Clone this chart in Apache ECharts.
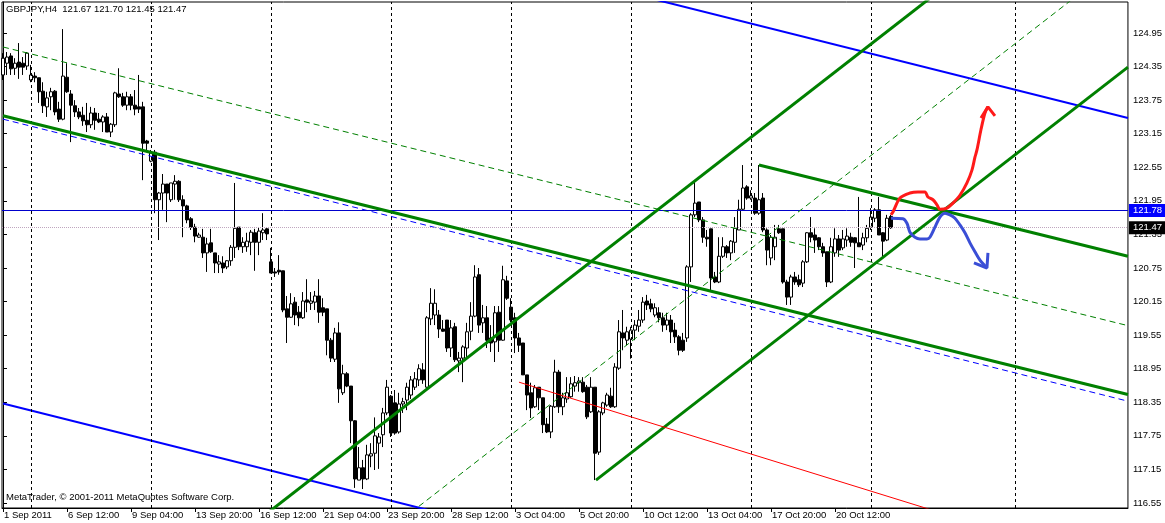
<!DOCTYPE html>
<html><head><meta charset="utf-8">
<script src="https://cdn.jsdelivr.net/npm/echarts@6/dist/echarts.min.js"></script>
<style>html,body{margin:0;padding:0;background:#fff}#c{width:1165px;height:523px}</style>
</head><body><div id="c"></div>
<script>
const FONT = 'Liberation Sans';
const FS = 9.5;

// ---- H4 candles, bar index 0 = 1 Sep 2011 20:00 ----
const opens = [124.20,124.41,124.54,124.32,124.43,124.41,124.36,124.11,124.18,124.15,
123.91,123.63,123.81,123.91,123.59,123.41,124.16,123.86,123.65,123.54,
123.48,123.39,123.31,123.52,123.41,123.36,123.45,123.18,123.31,123.86,
123.81,123.66,123.81,123.66,123.63,123.63,123.02,122.66,122.82,121.97,
122.09,122.25,121.97,122.25,122.30,121.97,121.86,121.63,121.48,121.30,
121.30,121.02,121.20,121.02,120.82,120.84,120.77,120.88,121.12,121.48,
121.13,121.13,121.21,121.38,121.21,121.38,121.45,120.86,120.68,120.71,
120.70,120.02,119.87,120.14,119.96,119.86,120.18,120.12,120.14,120.25,
120.04,120.02,119.46,119.12,119.59,118.52,118.86,118.64,118.02,116.96,
117.18,116.98,117.39,117.44,117.62,117.77,118.16,118.46,118.34,117.82,
118.32,118.39,118.48,118.62,118.75,118.93,118.62,119.84,119.91,119.91,
119.66,119.82,119.32,119.70,119.09,119.14,119.32,119.62,119.89,120.63,
119.77,119.86,119.50,119.43,119.96,119.46,120.52,120.05,119.86,119.50,
119.41,118.84,118.52,118.27,118.62,118.43,117.96,117.82,118.27,118.89,
118.27,118.41,118.45,118.64,118.70,118.71,118.62,118.18,118.62,117.46,
118.16,118.30,118.46,118.27,118.96,119.59,119.46,119.48,119.64,119.71,
119.82,120.16,120.11,119.91,119.95,119.86,119.73,119.82,119.64,119.52,
119.46,119.50,120.77,121.70,121.93,121.61,121.30,121.45,120.59,120.50,
120.96,121.13,121.02,121.21,121.43,121.80,122.20,122.00,122.00,121.73,
122.00,121.43,120.93,121.13,121.45,121.45,120.50,120.23,120.59,120.54,
120.48,120.86,121.38,121.34,121.29,121.13,121.04,120.50,121.02,121.27,
121.11,121.25,121.30,121.29,121.20,121.16,121.29,121.48,121.64,121.79,
121.38,121.25,121.67];
const highs = [124.59,124.61,124.59,124.50,124.77,124.52,124.61,124.38,124.25,124.15,
124.07,123.90,123.97,123.93,123.72,125.02,124.41,123.93,123.75,123.61,
123.63,123.70,123.63,123.61,123.52,123.48,123.52,123.34,123.90,124.32,
123.88,123.90,123.86,123.93,124.20,123.72,123.04,122.86,122.86,122.11,
122.43,122.25,122.27,122.41,122.32,122.05,121.88,121.66,121.54,121.38,
121.45,121.29,121.45,121.02,120.98,120.96,120.89,121.16,122.27,121.48,
121.30,121.38,121.43,121.45,121.48,121.73,121.48,121.11,120.75,120.98,
120.70,120.25,120.30,120.23,120.07,120.32,120.55,120.32,120.34,120.55,
120.21,120.02,119.50,119.68,119.78,119.02,118.89,118.64,118.03,117.55,
117.32,117.59,117.62,118.08,117.80,118.25,118.75,118.48,118.57,118.52,
118.43,118.70,118.82,118.89,119.03,119.05,119.89,120.39,120.37,120.00,
119.82,119.82,119.82,119.77,119.25,119.37,119.77,120.14,120.80,120.75,
120.09,120.07,119.73,120.07,120.07,120.79,120.61,120.21,119.95,119.59,
119.41,118.84,118.70,118.66,118.62,118.43,118.07,118.30,119.11,118.93,
118.52,118.80,118.80,118.82,118.80,118.80,118.66,118.80,118.62,118.21,
118.36,118.52,118.61,119.05,119.82,120.00,119.70,119.70,119.82,120.00,
120.23,120.27,120.20,120.12,120.05,119.95,119.95,119.91,119.77,119.55,
119.59,120.80,121.73,122.29,121.93,121.66,121.43,121.45,120.68,121.30,
121.30,121.16,121.25,121.66,121.97,122.59,122.23,122.14,122.09,122.59,
122.09,121.46,121.34,121.52,121.52,121.45,120.54,120.63,120.68,120.63,
120.89,121.39,121.66,121.46,121.30,121.20,121.04,121.29,121.46,121.34,
121.43,121.46,121.38,121.30,122.02,121.38,121.52,121.82,121.82,122.02,
121.39,121.70,121.70];
const lows = [124.11,124.20,124.20,124.20,124.13,124.20,124.29,124.07,124.07,123.70,
123.52,123.45,123.57,123.48,123.36,123.39,123.88,123.00,123.45,123.41,
123.29,123.18,123.25,123.22,123.34,123.18,123.18,123.09,123.27,123.79,
123.63,123.57,123.57,123.48,123.52,122.32,122.82,122.64,121.73,121.25,
121.79,121.57,121.93,121.97,121.93,121.30,121.55,121.43,121.21,121.29,
120.93,120.68,121.02,120.66,120.66,120.66,120.73,120.79,120.93,121.07,
121.02,121.04,120.98,120.70,120.98,121.25,121.25,120.66,120.59,120.63,
119.96,119.41,119.86,119.73,119.71,119.84,119.96,120.00,120.00,119.77,
119.89,119.19,119.07,119.07,118.34,118.48,118.62,117.62,116.82,116.96,
116.80,116.96,117.19,117.14,117.16,117.55,118.12,117.73,117.77,117.79,
118.16,118.21,118.41,118.57,118.64,118.68,118.61,119.73,119.73,119.50,
119.61,119.25,119.16,119.07,118.89,118.71,119.16,119.46,119.87,119.59,
119.59,119.32,119.25,119.07,119.25,119.45,120.18,119.78,119.23,119.25,
118.84,118.21,118.07,118.25,118.21,117.80,117.80,117.71,118.25,118.16,
118.12,118.34,118.43,118.54,118.54,118.52,118.05,118.16,116.96,117.41,
118.12,118.27,118.25,118.25,118.93,119.28,119.37,119.13,119.46,119.61,
119.77,120.00,119.96,119.87,119.78,119.61,119.64,119.41,119.41,119.19,
119.25,119.43,120.50,121.66,121.57,121.20,121.13,120.32,120.48,120.48,
120.93,120.93,120.89,121.02,121.43,121.79,121.97,121.97,121.70,121.70,
121.39,120.80,120.80,120.89,121.36,120.47,120.09,120.09,120.45,120.41,
120.41,120.84,121.21,121.02,121.07,120.95,120.41,120.48,120.95,120.95,
121.07,121.13,121.13,120.75,121.13,121.07,121.21,121.43,121.57,121.36,
120.95,121.23,121.45];
const closes = [124.50,124.52,124.31,124.41,124.34,124.34,124.59,124.20,124.15,123.90,
123.65,123.79,123.90,123.54,123.41,124.18,123.90,123.66,123.54,123.45,
123.38,123.31,123.52,123.39,123.36,123.45,123.18,123.32,123.88,123.81,
123.66,123.81,123.66,123.59,123.59,122.98,122.98,122.82,121.97,122.09,
122.25,122.09,122.27,122.30,121.97,121.86,121.61,121.48,121.32,121.34,
121.02,121.18,121.04,120.84,120.86,120.75,120.88,121.12,121.46,121.13,
121.21,121.23,121.39,121.21,121.41,121.43,121.36,120.66,120.66,120.68,
120.00,119.87,120.11,119.91,119.86,120.16,120.14,120.16,120.25,119.96,
119.96,119.46,119.14,119.59,118.59,118.86,118.64,118.02,116.98,117.18,
116.98,117.41,117.43,117.75,117.73,118.16,118.62,117.80,117.80,118.32,
118.36,118.62,118.75,118.77,118.95,118.75,119.86,120.12,120.12,119.66,
119.62,119.32,119.68,119.11,119.14,119.34,119.61,119.89,120.59,119.73,
119.86,119.46,119.41,119.95,119.46,120.54,120.21,119.82,119.50,119.37,
118.84,118.48,118.25,118.61,118.43,117.95,117.82,118.28,118.89,118.27,
118.43,118.52,118.68,118.70,118.73,118.54,118.09,118.62,117.44,118.18,
118.34,118.48,118.27,118.98,119.61,119.50,119.61,119.64,119.73,119.82,
120.14,120.09,120.02,120.04,119.86,119.73,119.82,119.61,119.52,119.28,
119.28,120.77,121.70,121.91,121.61,121.30,121.27,120.57,120.50,120.96,
121.13,121.02,121.23,121.46,121.80,122.18,122.00,122.04,121.73,121.97,
121.43,121.07,121.30,121.30,121.38,120.50,120.23,120.59,120.50,120.45,
120.86,121.38,121.30,121.25,121.13,121.02,120.50,121.13,121.27,121.07,
121.27,121.32,121.21,121.20,121.13,121.29,121.46,121.66,121.79,121.34,
121.23,121.64,121.47];

// ---- axes ----
const xTickBars = [0,16,32,48,64,80,96,112,128,144,160,176,192,208];
const xTickLabels = ['1 Sep 2011','6 Sep 12:00','9 Sep 04:00','13 Sep 20:00','16 Sep 12:00','21 Sep 04:00',
  '23 Sep 20:00','28 Sep 12:00','3 Oct 04:00','5 Oct 20:00','10 Oct 12:00','13 Oct 04:00','17 Oct 20:00','20 Oct 12:00'];
const yTickValues = [116.55,117.15,117.75,118.35,118.95,119.55,120.15,120.75,121.35,121.95,122.55,123.15,123.75,124.35,124.95];
const weekSeparators = [7,37,67,97,127,157,187,217,253];
const lastLevel = 121.78;
const bidLevel = 121.47;
const titleText = 'GBPJPY,H4  121.67 121.70 121.45 121.47';
const copyrightText = 'MetaTrader, \u00a9 2001-2011 MetaQuotes Software Corp.';

// ---- drawn objects, [bar index, price] ----
const chanDownMain  = [[0,123.47],[281.25,118.49]];
const chanDownUpper = [[189,122.59],[281.25,120.96]];
const chanDownMid   = [[0,124.70],[281.25,119.72]];
const chanUpA   = [[60,116.03],[240,126.03]];
const chanUpB   = [[148.25,116.96],[281.25,124.34]];
const chanUpMid = [[100,116.27],[270,125.70]];
const regMid   = [[0,123.41],[281.25,118.37]];
const regUpper = [[0,128.47],[281.25,123.43]];
const regLower = [[0,118.33],[281.25,113.29]];
const redRay = [[129,118.71],[232,116.43]];
const redPath = [[222,121.70],[222.5,121.75],[224.25,122.00],[226.75,122.09],[228.75,122.11],[230.5,122.11],
  [231.25,122.02],[232.5,121.97],[233.5,121.88],[234.25,121.80],[236,121.82],[237.5,121.91],[239.25,122.05],
  [241,122.27],[242.25,122.50],[243,122.73],[243.5,122.86],[244.5,123.22],[245.5,123.52],[246.25,123.63]];
const redHead = [[244.5,123.43],[246.25,123.63],[248,123.47]];
const bluePath = [[222,121.64],[225,121.63],[226,121.55],[226.75,121.39],[228,121.30],[229.25,121.27],[231,121.27],
  [231.75,121.30],[233,121.48],[234.25,121.66],[235.5,121.73],[236.75,121.70],[238,121.64],[239.25,121.52],
  [240.5,121.38],[241.75,121.20],[243,121.04],[244.25,120.89],[245.5,120.79],[246,120.75]];
const blueHead = [[242.75,120.84],[246,120.75],[246.25,121.02]];

const Y_MIN = 116.461, Y_MAX = 125.504;

const candles = opens.map((o,k)=>[k, o, closes[k], lows[k], highs[k]]);

function line(pts, color, width, type, z, smooth){
  return {type:'line', data: pts, symbol:'none', smooth: smooth||false, silent:true, clip:true,
    lineStyle:{color:color, width:width, type:type||'solid'}, z: z||5, animation:false};
}

const chart = echarts.init(document.getElementById('c'), null, {renderer:'canvas'});
chart.setOption({
  animation:false,
  backgroundColor:'#fff',
  grid:{left:2, right:37, top:2, bottom:15, show:true, borderColor:'#000', borderWidth:1, backgroundColor:'#fff'},
  xAxis:{type:'value', min:-0.25, max:281.25,
    axisLine:{show:true, lineStyle:{color:'#000', width:1}},
    axisTick:{show:true, length:4, lineStyle:{color:'#000'}, customValues:xTickBars},
    axisLabel:{show:true, customValues:xTickBars, color:'#000', fontFamily:FONT, fontSize:FS, align:'left', margin:2,
      padding:[0,0,0,1],
      formatter:(v)=>{const k=xTickBars.indexOf(Math.round(v)); return k>=0?xTickLabels[k]:'';}},
    splitLine:{show:false}},
  yAxis:{type:'value', position:'right', min:Y_MIN, max:Y_MAX, scale:true,
    axisLine:{show:true, lineStyle:{color:'#000', width:1}},
    axisTick:{show:true, length:4, lineStyle:{color:'#000'}, customValues:yTickValues},
    axisLabel:{show:true, customValues:yTickValues, color:'#000', fontFamily:FONT, fontSize:FS, margin:5,
      formatter:(v)=>v.toFixed(2)},
    splitLine:{show:false}},
  graphic:[
    {type:'text', left:6, top:4, z:100, style:{text:titleText, fill:'#000', font:FS+'px '+FONT}},
    {type:'text', left:6, top:492, z:100, style:{text:copyrightText, fill:'#000', font:FS+'px '+FONT}}
  ],
  series:[
    {type:'line', data:[], silent:true, z:1,
      markLine:{silent:true, symbol:'none', animation:false, label:{show:false},
        lineStyle:{color:'#000', width:1, type:[3,3]},
        data: weekSeparators.map(v=>({xAxis:v}))}},
    {type:'line', data:[], silent:true, z:2,
      markLine:{silent:true, symbol:'none', animation:false,
        data:[
          {yAxis:lastLevel, lineStyle:{color:'#0000cc', width:1, type:'solid'},
            label:{show:true, position:'end', distance:1, formatter:lastLevel.toFixed(2), color:'#fff',
              backgroundColor:'#0000ff', padding:[2,4,1,4], fontFamily:FONT, fontSize:FS}},
          {yAxis:bidLevel, lineStyle:{color:'#bfa6bf', width:1, type:[1,1]},
            label:{show:true, position:'end', distance:1, formatter:bidLevel.toFixed(2), color:'#fff',
              backgroundColor:'#000', padding:[2,4,1,4], fontFamily:FONT, fontSize:FS}}
        ]}},
    {type:'candlestick', data:candles, encode:{x:0, y:[1,2,3,4]}, barWidth:3, silent:true, z:3,
      itemStyle:{color:'#fff', color0:'#000', borderColor:'#000', borderColor0:'#000', borderWidth:1}},
    line(regMid, '#0000ff', 1, [6,4], 4),
    line(regUpper, '#0000ff', 2, 'solid', 4),
    line(regLower, '#0000ff', 2, 'solid', 4),
    line(chanDownMid, '#008000', 1, [6,4], 5),
    line(chanUpMid, '#008000', 1, [6,4], 5),
    line(chanDownMain, '#008000', 3, 'solid', 6),
    line(chanDownUpper, '#008000', 3, 'solid', 6),
    line(chanUpA, '#008000', 3, 'solid', 6),
    line(chanUpB, '#008000', 3, 'solid', 6),
    line(redRay, '#ff0000', 1, 'solid', 6),
    line(redPath, '#ff1a1a', 3, 'solid', 7, 0.3),
    line(redHead, '#ff1a1a', 3, 'solid', 7),
    line(bluePath, '#3a4ed6', 3, 'solid', 7, 0.3),
    line(blueHead, '#3a4ed6', 3, 'solid', 7)
  ]
});
</script></body></html>
